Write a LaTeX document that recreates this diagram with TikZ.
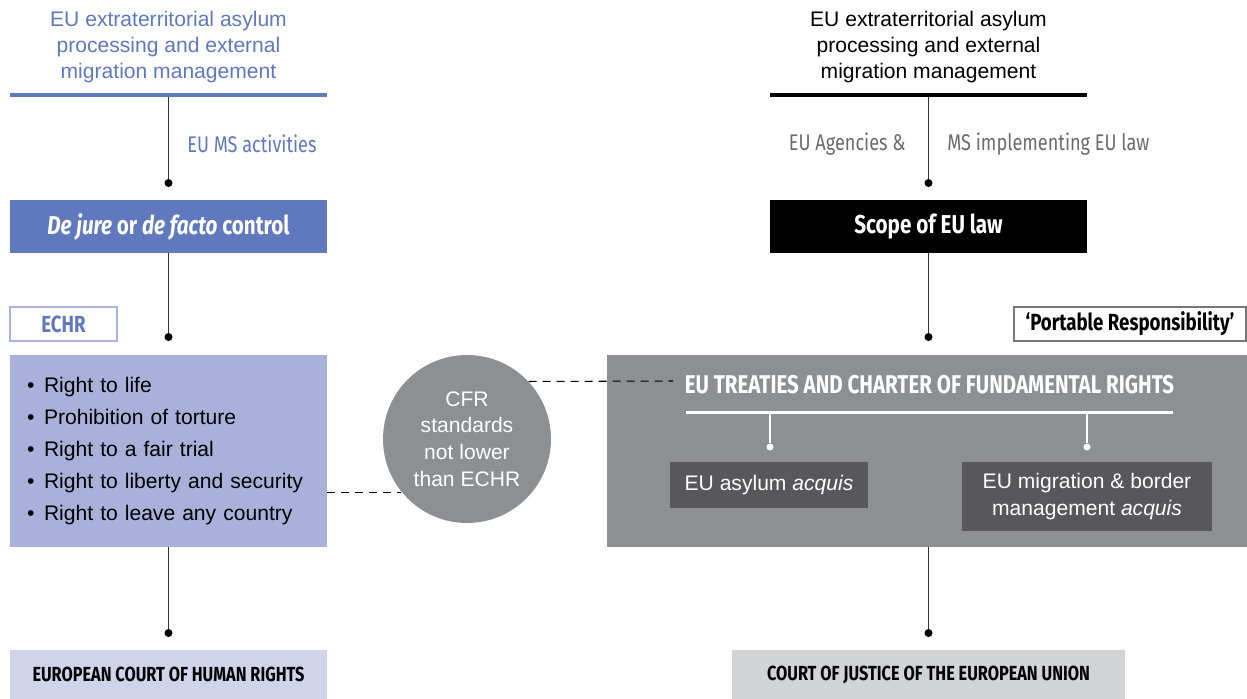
\documentclass[tikz,border=0pt]{standalone}
\usepackage{fontspec}
\setmainfont{Liberation Sans}
\newfontfamily\cond[FakeStretch=0.8]{Fira Sans}
\definecolor{eublue}{HTML}{6078BD}
\definecolor{listblue}{HTML}{A7B1DA}
\definecolor{echrline}{HTML}{A9B4DF}
\definecolor{courtblue}{HTML}{D0D4EB}
\definecolor{midgrey}{HTML}{8E8F92}
\definecolor{darkgrey}{HTML}{58585A}
\definecolor{lightgrey}{HTML}{D2D3D5}
\definecolor{labelgrey}{HTML}{6B6B6D}
\definecolor{framegrey}{HTML}{76777A}
\tikzset{
  title/.style={align=center,font=\fontsize{12}{14.7}\selectfont},
  bar/.style={inner sep=0,minimum width=6.34cm,minimum height=0.08cm},
  dot/.style={circle,fill,inner sep=0,minimum size=0.16cm},
  link/.style={line width=0.8pt,draw=black!80},
  head/.style={inner sep=0,minimum width=6.34cm,minimum height=1.06cm,text=white,font=\cond\bfseries\fontsize{14.7}{17}\selectfont},
  tag/.style={draw,line width=0.04cm,inner sep=0,minimum height=0.68cm,fill=white,font=\cond\bfseries\fontsize{13.3}{15}\selectfont},
  court/.style={inner sep=0,minimum height=0.98cm,font=\cond\bfseries\fontsize{11.6}{13}\selectfont},
  acq/.style={fill=darkgrey,text=white,inner sep=0,align=center,font=\fontsize{12}{15}\selectfont},
  via/.style={inner sep=0,font=\cond\fontsize{12.9}{15}\selectfont},
  gap/.style={dash pattern=on 0.16cm off 0.12cm,line width=0.6pt}
}
\newcommand{\bul}{\makebox[0.34cm][l]{\textbullet}}
\begin{document}
\begin{tikzpicture}[x=0.02cm,y=-0.02cm]
\useasboundingbox (0,0) rectangle (1247,699);
% left side: ECHR
\node[title,text=eublue] (ltitle) at (168.5,47) {EU extraterritorial asylum\\processing and external\\migration management};
\node[bar,fill=eublue] (lbar) at (168.5,95) {};
\node[dot] (ldot1) at (168.5,183) {};
\node[via,text=eublue,anchor=west] (lvia) at (187,144) {EU MS activities};
\node[head,fill=eublue] (lhead) at (168.5,226.5) {\itshape De jure \upshape or \itshape de facto \upshape control};
\node[dot] (ldot2) at (168.5,337) {};
\node[tag,draw=echrline,text=eublue,minimum width=2.14cm] (echr) at (63.5,324) {ECHR};
\node[fill=listblue,minimum width=6.34cm,minimum height=3.84cm,inner xsep=0.34cm,inner ysep=0,text width=5.66cm,align=left,font=\fontsize{12}{18.1}\selectfont] (rights) at (168.5,451)
  {\bul Right to life\\\bul Prohibition of torture\\\bul Right to a fair trial\\\bul Right to liberty and security\\\bul Right to leave any country};
\node[dot] (ldot3) at (168.5,633) {};
\node[court,fill=courtblue,minimum width=6.34cm] (ecthr) at (168.5,674.5) {EUROPEAN COURT OF HUMAN RIGHTS};
\draw[link] (lbar.south) -- (ldot1);
\draw[link] (lhead.south) -- (ldot2);
\draw[link] (rights.south) -- (ldot3);
% middle
\node[circle,fill=midgrey,minimum size=3.36cm,inner sep=0,text=white,align=center,font=\fontsize{12}{15.1}\selectfont] (cfr) at (467,439) {CFR\\standards\\not lower\\than ECHR};
\draw[gap] (rights.east |- cfr.219) -- (cfr.219);
% right side: EU law
\node[title] (rtitle) at (928.5,47) {EU extraterritorial asylum\\processing and external\\migration management};
\node[bar,fill=black] (rbar) at (928.5,95) {};
\node[dot] (rdot1) at (928.5,183) {};
\node[via,text=labelgrey,anchor=east] (rvia1) at (906,144) {EU Agencies \&};
\node[via,text=labelgrey,anchor=west] (rvia2) at (947,144) {MS implementing EU law};
\node[head,fill=black] (rhead) at (928.5,226.5) {Scope of EU law};
\node[dot] (rdot2) at (928.5,337) {};
\node[tag,draw=framegrey,minimum width=4.64cm] (portable) at (1130,324) {‘Portable Responsibility’};
\node[fill=midgrey,minimum width=12.8cm,minimum height=3.84cm,inner sep=0] (eulaw) at (927,451) {};
\node[text=white,inner sep=0,font=\cond\bfseries\fontsize{14.6}{17}\selectfont] (charter) at (929.5,385) {EU TREATIES AND CHARTER OF FUNDAMENTAL RIGHTS};
\node[bar,fill=white,minimum width=9.74cm,minimum height=0.06cm] (wbar) at (929.5,412) {};
\node[dot,fill=white,minimum size=0.14cm] (wdot1) at (770,447) {};
\node[dot,fill=white,minimum size=0.14cm] (wdot2) at (1087,447) {};
\draw[link,draw=white] (wbar.south -| wdot1) -- (wdot1);
\draw[link,draw=white] (wbar.south -| wdot2) -- (wdot2);
\node[acq,minimum width=3.96cm,minimum height=0.92cm] (asylum) at (769,485) {EU asylum \textit{acquis}};
\node[acq,minimum width=5cm,minimum height=1.38cm] (border) at (1087,496.5) {EU migration \& border\\management \textit{acquis}};
\node[dot] (rdot3) at (928.5,633) {};
\node[court,fill=lightgrey,minimum width=7.86cm] (cjeu) at (928.5,674.5) {COURT OF JUSTICE OF THE EUROPEAN UNION};
\coordinate (gapend) at (673,381);
\draw[gap] (cfr.43.7) -- (gapend);
\draw[link] (rbar.south) -- (rdot1);
\draw[link] (rhead.south) -- (rdot2);
\draw[link] (eulaw.south -| rdot3) -- (rdot3);
\end{tikzpicture}
\end{document}
